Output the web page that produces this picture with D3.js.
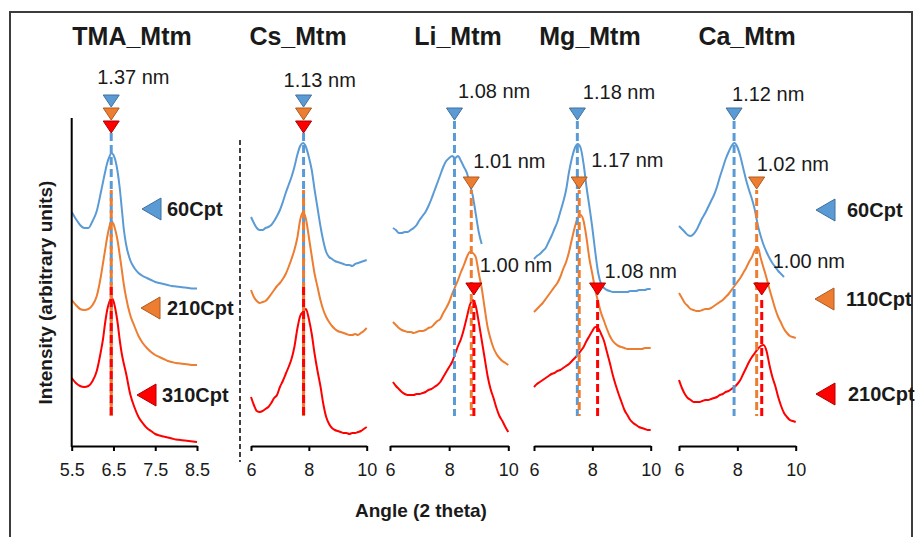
<!DOCTYPE html>
<html>
<head>
<meta charset="utf-8">
<script src="https://cdn.jsdelivr.net/npm/d3@7"></script>
<style>
  body { margin: 0; background: #fff; }
  svg { display: block; }
  text { font-family: "Liberation Sans", Arial, sans-serif; fill: #1a1a1a; }
</style>
</head>
<body>
<svg id="chart" width="917" height="537"></svg>
<script>
// ---- data -------------------------------------------------------------
const panelNames = ["TMA_Mtm", "Cs_Mtm", "Li_Mtm", "Mg_Mtm", "Ca_Mtm"];
const legendLeft = ["60Cpt", "210Cpt", "310Cpt"];
const legendRight = ["60Cpt", "110Cpt", "210Cpt"];

const ticksTMA = [5.5, 6.5, 7.5, 8.5];
const ticksMtm = [6, 8, 10];
const domainTMA = [5.5, 8.5];
const domainMtm = [6, 10];

// 2-theta sampling (degrees)
const anglesTMA = [5.5, 5.6, 5.7, 5.8, 5.9, 6.0, 6.1, 6.2, 6.25, 6.3, 6.35, 6.4, 6.45, 6.5, 6.55, 6.6, 6.65, 6.7, 6.75,
  6.8, 6.9, 7.0, 7.1, 7.2, 7.3, 7.4, 7.5, 7.6, 7.7, 7.8, 7.9, 8.0, 8.1, 8.2, 8.3, 8.4, 8.5];
const anglesMtm = [6.0, 6.1, 6.2, 6.3, 6.4, 6.5, 6.6, 6.7, 6.8, 6.9, 7.0, 7.1, 7.2, 7.3, 7.4, 7.5, 7.6, 7.7, 7.8, 7.9,
  8.0, 8.1, 8.2, 8.3, 8.4, 8.5, 8.6, 8.7, 8.8, 8.9, 9.0, 9.1, 9.2, 9.3, 9.4, 9.5, 9.6, 9.7, 9.8, 9.9, 10.0];

// intensities (arbitrary units, patterns offset for stacking)
const tmaBlue = [238, 231, 225, 222, 222, 229, 239, 258, 268, 278, 287, 293, 297, 295, 289, 278, 262, 241, 220,
  206, 190, 182, 177, 174, 172, 170, 168, 167, 166, 165, 164, 163.5, 163, 162.5, 162, 161.5, 161.5];
const tmaOrange = [150, 145, 141, 140, 141, 145, 154, 174, 187, 200, 213, 223, 229, 226, 219, 209, 195, 180, 165,
  153, 135, 124, 114, 107, 102, 98, 95, 93, 91, 89, 88, 87, 86.5, 86, 85.5, 85, 85];
const tmaRed = [72, 67, 64, 63, 64, 69, 79, 99, 111, 127, 140, 148, 152, 149, 140, 127, 110, 96, 86,
  77, 56, 43, 33, 27, 22, 19, 16, 14.5, 13.5, 12.5, 11.5, 10.5, 10, 9.5, 9, 8.5, 8];

const csBlue = [233, 227, 222, 220, 220, 222, 223, 225, 229, 234, 240, 248, 257, 265, 273, 283, 295, 304, 307, 303,
  293, 280, 260, 242, 224, 209, 198, 193, 191, 189, 188, 187, 186, 185, 185, 184, 186, 187, 188, 189, 190];
const csOrange = [160, 153, 149, 147, 148, 149, 152, 156, 160, 164, 167, 171, 176, 183, 191, 200, 212, 230, 238, 231,
  213, 194, 176, 163, 150, 140, 133, 128, 124, 121, 119, 118, 117, 116, 115, 115, 116, 115, 117, 119, 122];
const csRed = [53, 45, 39, 38, 39, 41, 43, 47, 52, 55, 63, 69, 76, 83, 91, 103, 121, 134, 138, 141,
  131, 116, 96, 79, 64, 46, 33, 26, 22, 20, 19, 18, 17, 17, 16, 17, 17, 18, 19, 21, 23];

const liBlue = [null, 222, 220, 217, 217, 218, 218, 220, 222, 225, 230, 234, 238, 244, 251, 259, 267, 275, 283, 289,
  292, 294, 292, 294, 289, 283, 277, 266, 254, 236, 218, 206, null, null, null, null, null, null, null, null, null];
const liOrange = [null, 128, 125, 122, 120, 119, 118, 118, 117, 118, 119, 119, 120, 122, 123, 126, 129, 131, 137, 142,
  148, 156, 163, 170, 178, 185, 193, 198, 197, 193, 177, 162, 142, 123, 111, 102, 96, 92, 89, 87, 85];
const liRed = [null, 68, 64, 61, 58, 56, 55, 55, 55, 56, 56, 57, 58, 60, 61, 63, 65, 68, 73, 78,
  83, 88, 96, 104, 111, 121, 133, 145, 150, 144, 128, 110, 92, 74, 61, 52, 42, 34, 29, 23, 18];

const mgBlue = [191, 194, 196, 199, 202, 208, 214, 221, 228, 238, 248, 260, 278, 292, 302, 306, 302, 286, 263, 243,
  222, 198, 177, 166, 162, 160, 159, 158, 158, 158, 158, 158, 158, 159, 159, 159, 160, 160, 160, 161, 161];
const mgOrange = [138, 141, 144, 147, 151, 155, 159, 163, 167, 173, 181, 188, 198, 211, 223, 232, 235, 229, 212, 191,
  176, 160, 148, 137, 129, 121, 114, 109, 106, 104, 103, 102, 101, 101, 101, 101, 101, 101, 102, 102, 102];
const mgRed = [63, 66, 68, 70, 72, 74, 76, 77, 79, 80, 82, 84, 86, 89, 92, 95, 99, 103, 109, 114,
  119, 123, 122, 116, 109, 98, 87, 75, 65, 56, 48, 40, 35, 30, 27, 25, 23, 22, 21, 20, 20];

const caBlue = [224, 221, 218, 215, 214, 216, 220, 226, 232, 237, 243, 249, 255, 263, 273, 282, 291, 298, 304, 307,
  303, 294, 282, 270, 260, 251, 240, 225, 214, 205, 198, 192, 187, 183, 179, 176, 173, null, null, null, null];
const caOrange = [157, 152, 147, 144, 141, 140, 139, 139, 140, 141, 141, 142, 144, 146, 148, 150, 153, 156, 160, 164,
  168, 172, 177, 182, 188, 193, 200, 203, 192, 182, 172, 161, 151, 141, 133, 127, 121, 117, 114, 113, 112];
const caRed = [70, 62, 56, 52, 50, 48, 48, 48, 49, 50, 50, 51, 52, 53, 55, 56, 58, 59, 61, 63,
  66, 70, 76, 82, 88, 93, 97, 101, 104, 105, 99, 85, 73, 64, 53, 44, 37, 33, 30, 29, 28];

// basal spacings (nm) marked for each pattern
const dTMA = [1.37, 1.37, 1.37];
const dCs = [1.13, 1.13, 1.13];
const dLi = [1.08, 1.01, 1.00];
const dMg = [1.18, 1.17, 1.08];
const dCa = [1.12, 1.02, 1.00];

// ---- helpers -----------------------------------------------------------
const WAVELENGTH = 0.15406; // Cu K-alpha, nm
const twoTheta = d => 2 * Math.asin(WAVELENGTH / (2 * d)) * 180 / Math.PI;
const fmtD = d => d3.format(".2f")(d) + " nm";

const colors = ["#5B9BD5", "#ED7D31", "#FF0000"];
const edges = ["#41719C", "#AE5A21", "#B00000"];

const panels = [
  { name: panelNames[0], angles: anglesTMA, series: [tmaBlue, tmaOrange, tmaRed], d: dTMA, ticks: ticksTMA, domain: domainTMA },
  { name: panelNames[1], angles: anglesMtm, series: [csBlue, csOrange, csRed], d: dCs, ticks: ticksMtm, domain: domainMtm },
  { name: panelNames[2], angles: anglesMtm, series: [liBlue, liOrange, liRed], d: dLi, ticks: ticksMtm, domain: domainMtm },
  { name: panelNames[3], angles: anglesMtm, series: [mgBlue, mgOrange, mgRed], d: dMg, ticks: ticksMtm, domain: domainMtm },
  { name: panelNames[4], angles: anglesMtm, series: [caBlue, caOrange, caRed], d: dCa, ticks: ticksMtm, domain: domainMtm }
];

// page layout
const layout = [
  { x0: 71.7, x1: 197, titleX: 132, stacked: true, labelDx: [-14], labelDy: [-17] },
  { x0: 251, x1: 366.7, titleX: 298, stacked: true, labelDx: [-20], labelDy: [-14] },
  { x0: 390, x1: 508.3, titleX: 458, stacked: false, labelDx: [3.5, 2, 6], labelDy: [-16, -15, -17] },
  { x0: 534, x1: 650.7, titleX: 590, stacked: false, labelDx: [5.5, 12, 7], labelDy: [-15, -16, -11] },
  { x0: 679, x1: 795.7, titleX: 747, stacked: false, labelDx: [-2, 0, 11], labelDy: [-13, -12, -21] }
];
const axisY = 446;
const markerYStacked = [101, 114, 127];
const markerYSpread = [114, 183, 289];
const dashTopStacked = [133, 190, 283];
const dashTopSpread = [121, 190, 296];
const dashBottom = 416;

const svg = d3.select("#chart");
const y = d3.scaleLinear().domain([0, 350]).range([450, 100]);

// outer frame
svg.append("rect")
  .attr("x", 10).attr("y", 12).attr("width", 902).attr("height", 540)
  .attr("fill", "none").attr("stroke", "#3c3c3c").attr("stroke-width", 2);

const downTri = (cx, cy) => `M${cx - 8},${cy - 6}L${cx + 8},${cy - 6}L${cx},${cy + 6}Z`;
const leftTri = (tip, cy) => `M${tip},${cy}L${tip + 19},${cy - 11}L${tip + 19},${cy + 11}Z`;

panels.forEach((p, i) => {
  const L = layout[i];
  const x = d3.scaleLinear().domain(p.domain).range([L.x0, L.x1]);
  const g = svg.append("g");

  // title
  g.append("text")
    .attr("x", L.titleX).attr("y", 45)
    .attr("text-anchor", "middle")
    .attr("font-size", 25).attr("font-weight", "bold")
    .text(p.name);

  // x axis
  const ax = g.append("g")
    .attr("transform", `translate(0,${axisY})`)
    .call(d3.axisBottom(x).tickValues(p.ticks).tickSize(5).tickSizeOuter(0).tickPadding(12)
      .tickFormat(d => String(d)));
  ax.select(".domain").attr("stroke", "#000").attr("stroke-width", 2);
  ax.selectAll(".tick line").attr("stroke", "#000").attr("stroke-width", 2);
  ax.selectAll(".tick text")
    .attr("font-size", 18).attr("fill", "#1a1a1a")
    .style("font-family", "'Liberation Sans', Arial, sans-serif");

  // diffraction patterns
  const line = d3.line()
    .defined(d => d[1] != null)
    .x(d => x(d[0])).y(d => y(d[1]))
    .curve(d3.curveMonotoneX);
  p.series.forEach((vals, k) => {
    const pts = p.angles.map((a, j) => [a, vals[j]]);
    g.append("path")
      .attr("d", line(pts))
      .attr("fill", "none")
      .attr("stroke", colors[k])
      .attr("stroke-width", 2)
      .attr("stroke-linejoin", "round");
  });

  // peak position guides
  const markerY = L.stacked ? markerYStacked : markerYSpread;
  const dashTop = L.stacked ? dashTopStacked : dashTopSpread;
  p.d.forEach((d, k) => {
    const px = x(twoTheta(d));
    g.append("line")
      .attr("x1", px).attr("x2", px)
      .attr("y1", dashTop[k]).attr("y2", dashBottom)
      .attr("stroke", colors[k]).attr("stroke-width", 3)
      .attr("stroke-dasharray", "8,4")
      .attr("stroke-dashoffset", k * 4);
  });
  p.d.forEach((d, k) => {
    const px = x(twoTheta(d));
    g.append("path")
      .attr("d", downTri(px, markerY[k]))
      .attr("fill", colors[k]).attr("stroke", edges[k]).attr("stroke-width", 1);
  });

  // spacing labels
  const labelled = L.stacked ? [0] : [0, 1, 2];
  labelled.forEach((k, n) => {
    const px = x(twoTheta(p.d[k]));
    g.append("text")
      .attr("x", px + L.labelDx[n])
      .attr("y", markerY[k] + L.labelDy[n])
      .attr("font-size", 20)
      .text(fmtD(p.d[k]));
  });

  // intensity axis for the first panel
  if (i === 0) {
    g.append("line")
      .attr("x1", L.x0).attr("x2", L.x0)
      .attr("y1", 118).attr("y2", axisY + 1)
      .attr("stroke", "#000").attr("stroke-width", 2);
  }
});

// dashed separator between the TMA panel and the rest
svg.append("line")
  .attr("x1", 240).attr("x2", 240).attr("y1", 140).attr("y2", 462)
  .attr("stroke", "#000").attr("stroke-width", 1.5).attr("stroke-dasharray", "5,3");

// legends
const legendLeftRows = [{ cy: 209, tip: 142, tx: 167 }, { cy: 308, tip: 141, tx: 167 }, { cy: 395, tip: 137, tx: 162 }];
const legendRightRows = [{ cy: 210, tip: 816, tx: 847 }, { cy: 299, tip: 815, tx: 846 }, { cy: 394, tip: 816, tx: 848 }];
[[legendLeft, legendLeftRows], [legendRight, legendRightRows]].forEach(([labels, rows]) => {
  labels.forEach((lab, k) => {
    const r = rows[k];
    svg.append("path").attr("d", leftTri(r.tip, r.cy))
      .attr("fill", colors[k]).attr("stroke", edges[k]).attr("stroke-width", 1);
    svg.append("text")
      .attr("x", r.tx).attr("y", r.cy + 7)
      .attr("font-size", 20).attr("font-weight", "bold")
      .text(lab);
  });
});

// axis titles
svg.append("text")
  .attr("transform", "translate(51.5,292.5) rotate(-90)")
  .attr("text-anchor", "middle")
  .attr("font-size", 19).attr("font-weight", "bold")
  .text("Intensity (arbitrary units)");
svg.append("text")
  .attr("x", 355).attr("y", 517)
  .attr("font-size", 19).attr("font-weight", "bold")
  .text("Angle (2 theta)");
</script>
</body>
</html>
